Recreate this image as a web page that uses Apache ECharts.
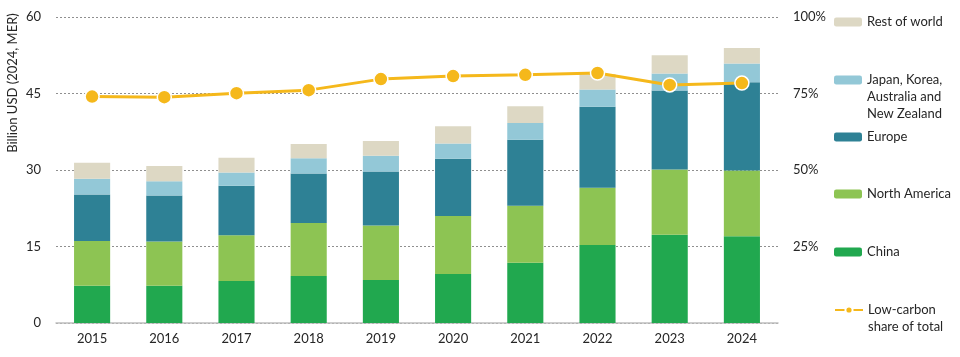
<!DOCTYPE html>
<html>
<head>
<meta charset="utf-8">
<script src="https://cdn.jsdelivr.net/npm/echarts@6/dist/echarts.min.js"></script>
<style>html,body{margin:0;padding:0;background:#fff}#c{width:960px;height:357px}</style>
</head>
<body>
<div id="c"></div>
<script>
const years = ['2015','2016','2017','2018','2019','2020','2021','2022','2023','2024'];
const china = [7.3, 7.3, 8.25, 9.2, 8.45, 9.6, 11.8, 15.3, 17.3, 17.0];
const northAmerica = [8.8, 8.7, 8.95, 10.4, 10.65, 11.4, 11.2, 11.2, 12.8, 12.9];
const europe = [9.1, 9.0, 9.7, 9.7, 10.6, 11.2, 12.95, 15.9, 15.5, 17.3];
const japanKoreaAusNz = [3.1, 2.8, 2.6, 3.0, 3.1, 3.0, 3.25, 3.4, 3.3, 3.7];
const restOfWorld = [3.1, 3.0, 2.9, 2.8, 2.9, 3.4, 3.3, 3.0, 3.6, 3.0];
const lowCarbonShare = [74.0, 73.8, 75.1, 76.1, 79.7, 80.7, 81.1, 81.7, 77.8, 78.4];
const leftTicks = [0, 15, 30, 45, 60];
const rightTicks = [0, 25, 50, 75, 100];

const FONT = 'Lato';
const TXT = '#262626';
const colors = {
  china: '#21a84f',
  na: '#8dc453',
  eu: '#2e8195',
  jp: '#93c8d7',
  rw: '#ddd8c4',
  line: '#f5b81b'
};

const chart = echarts.init(document.getElementById('c'), null, {renderer: 'canvas'});

function bar(name, data, color) {
  return {
    name, type: 'bar', stack: 'total', data, barWidth: '50%',
    itemStyle: {color},
    emphasis: {disabled: true}
  };
}

const wrapped = {
  'Japan, Korea, Australia and New Zealand': ['Japan, Korea,', 'Australia and', 'New Zealand'],
  'Low-carbon share of total': ['Low-carbon', 'share of total']
};

function leg(name, top) {
  return {
    data: [name],
    orient: 'vertical',
    left: 834, top,
    padding: 0,
    itemWidth: 28, itemHeight: 9,
    selectedMode: false,
    formatter: n => {
      const lines = wrapped[n];
      if (!lines) return n;
      // pad with blank lines above so the first line sits beside the icon
      const pad = new Array(lines.length - 1).fill(' ');
      return pad.concat(lines).join('\n');
    },
    textStyle: {fontFamily: FONT, fontSize: 13, color: TXT, lineHeight: 17}
  };
}

const option = {
  animation: false,
  grid: {left: 56, right: 182, top: 17, bottom: 34, containLabel: false},
  xAxis: {
    type: 'category', data: years,
    axisLine: {lineStyle: {color: '#bfbfbf', width: 1.5}},
    axisTick: {show: false},
    axisLabel: {fontFamily: FONT, fontSize: 13, color: TXT, margin: 9}
  },
  yAxis: [
    {
      type: 'value', min: leftTicks[0], max: leftTicks[leftTicks.length - 1], interval: 15,
      axisLine: {show: false}, axisTick: {show: false},
      axisLabel: {fontFamily: FONT, fontSize: 13, color: TXT, margin: 15},
      splitLine: {lineStyle: {color: '#8f8f8f', type: [2, 2], width: 1}}
    },
    {
      type: 'value', min: rightTicks[0], max: rightTicks[rightTicks.length - 1], interval: 25,
      axisLine: {show: false}, axisTick: {show: false},
      axisLabel: {fontFamily: FONT, fontSize: 13, color: TXT, margin: 15,
        formatter: v => v === 0 ? '' : v + '%'},
      splitLine: {show: false}
    }
  ],
  legend: [
    leg('Rest of world', 22 - 8.5),
    leg('Japan, Korea, Australia and New Zealand', 80 - 42.5),
    leg('Europe', 137 - 8.5),
    leg('North America', 194 - 8.5),
    leg('China', 252 - 8.5),
    leg('Low-carbon share of total', 310 - 25.5)
  ],
  graphic: [{
    type: 'text', x: 13, y: 83, rotation: Math.PI / 2,
    style: {text: 'Billion USD (2024, MER)', fontFamily: FONT, fontSize: 13, fill: TXT,
      textAlign: 'center', textVerticalAlign: 'middle'}
  }],
  series: [
    bar('China', china, colors.china),
    bar('North America', northAmerica, colors.na),
    bar('Europe', europe, colors.eu),
    bar('Japan, Korea, Australia and New Zealand', japanKoreaAusNz, colors.jp),
    bar('Rest of world', restOfWorld, colors.rw),
    {
      name: 'Low-carbon share of total', type: 'line', yAxisIndex: 1, data: lowCarbonShare,
      symbol: 'circle', symbolSize: 14,
      lineStyle: {color: colors.line, width: 3},
      itemStyle: {color: colors.line, borderColor: '#fff', borderWidth: 1.5},
      emphasis: {disabled: true}, z: 5
    }
  ]
};
chart.setOption(option);
</script>
</body>
</html>
